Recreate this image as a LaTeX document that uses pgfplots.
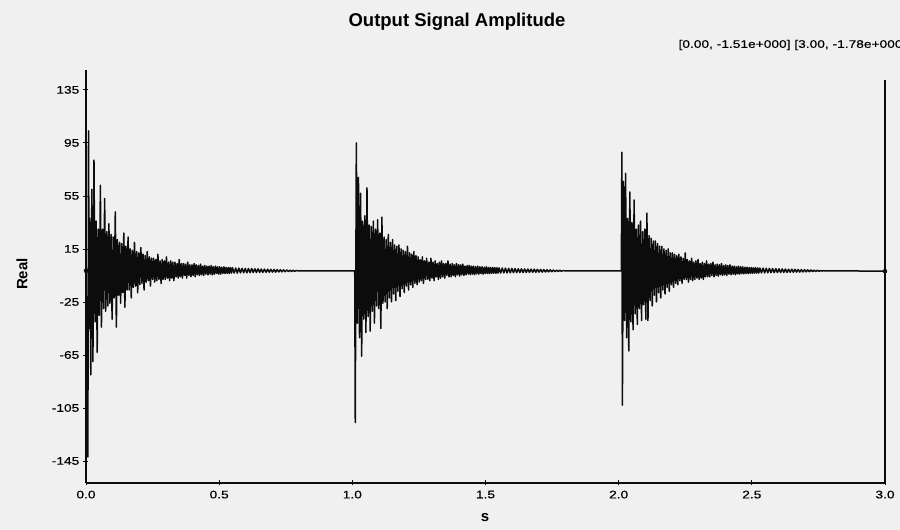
\documentclass[border=0pt]{standalone}
\usepackage{fontspec}
\setmainfont{Liberation Sans}
\newfontfamily\tickfont[FakeStretch=1.25, FakeBold=0.4]{Liberation Sans}
\usepackage{pgfplots}
\usepackage{pgfplotstable}
\pgfplotsset{compat=1.18}
\definecolor{bg}{RGB}{240,240,240}
\definecolor{ink}{RGB}{12,12,12}

\pgfplotstableread[row sep=\\]{
t v\\
0.000 -1.51\\
0.007 -142\\ 0.0095 104\\ 0.012 -45\\ 0.014 38\\ 0.018 -80\\ 0.022 60\\ 0.026 -70\\ 0.030 82\\
0.034 -40\\ 0.038 36\\ 0.042 -63\\ 0.046 30\\ 0.050 -35\\ 0.054 63\\ 0.058 -44\\ 0.062 30\\
0.066 -30\\ 0.070 53\\ 0.074 -32\\ 0.078 28\\ 0.082 -28\\ 0.086 34\\ 0.090 -26\\ 0.094 26\\
0.098 -38\\ 0.102 24\\ 0.106 -22\\ 0.110 43\\ 0.114 -44\\ 0.118 22\\ 0.122 -20\\ 0.126 20\\
0.130 -26\\ 0.134 19\\ 0.138 -18\\ 0.142 27\\ 0.146 -29\\ 0.150 17\\ 0.154 -16\\ 0.158 24\\
0.162 -16\\ 0.166 15\\ 0.170 -22\\ 0.174 14\\ 0.178 -14\\ 0.182 20\\ 0.186 -13\\ 0.190 13\\
0.194 -18\\ 0.198 12\\ 0.202 -12\\ 0.206 16\\ 0.210 -11\\ 0.214 11\\ 0.218 -16\\ 0.222 10\\
0.226 -10\\ 0.230 13\\ 0.234 -9\\ 0.238 9\\ 0.242 -13\\ 0.246 8\\ 0.250 -8\\
0.254 8\\ 0.258 -10\\ 0.262 7\\ 0.266 -9\\ 0.270 11\\ 0.274 -8\\ 0.278 6\\ 0.282 -11\\ 0.286 7\\ 0.290 -8\\
0.294 6\\ 0.298 -8\\ 0.302 9\\ 0.306 -7\\ 0.310 5\\ 0.314 -9\\ 0.318 6\\ 0.322 -7\\ 0.326 5\\ 0.330 -9\\
0.334 5\\ 0.338 -6\\ 0.342 4\\ 0.346 -7\\ 0.350 7\\ 0.354 -6\\ 0.358 4\\ 0.362 -7\\ 0.366 4\\ 0.370 -5\\
0.374 3.5\\ 0.378 -7\\ 0.382 5\\ 0.386 -5\\ 0.390 3\\ 0.394 -6\\ 0.398 3\\ 0.402 -5\\ 0.406 4\\ 0.410 -6\\
0.414 3\\ 0.418 -4.5\\ 0.422 2.5\\ 0.426 -5\\ 0.430 3.5\\ 0.434 -4.5\\ 0.438 2\\ 0.442 -5\\ 0.446 2.5\\ 0.450 -4\\
0.454 2\\ 0.458 -4.5\\ 0.462 2\\ 0.466 -4\\ 0.470 2.5\\ 0.474 -4.5\\ 0.478 1.5\\ 0.482 -4\\ 0.486 2\\ 0.490 -3.5\\
0.494 1.5\\ 0.498 -4\\ 0.502 1.5\\ 0.506 -4\\ 0.510 1.2\\ 0.514 -3.5\\ 0.518 1.5\\ 0.522 -3.5\\ 0.526 1\\ 0.530 -3.5\\
0.534 1\\ 0.538 -3.5\\ 0.542 1\\ 0.546 -3.2\\ 0.550 0.8\\
0.556 -3.2\\ 0.562 0.6\\ 0.568 -3.3\\ 0.574 0.5\\ 0.580 -3\\ 0.586 0.4\\ 0.592 -3\\ 0.598 0.3\\ 0.604 -3\\ 0.610 0.2\\
0.616 -2.9\\ 0.622 0.2\\ 0.628 -2.8\\ 0.634 0\\ 0.640 -2.8\\ 0.646 0\\ 0.652 -2.7\\ 0.658 -0.2\\ 0.664 -2.7\\ 0.670 -0.2\\
0.676 -2.6\\ 0.682 -0.3\\ 0.688 -2.6\\ 0.694 -0.4\\ 0.700 -2.5\\ 0.706 -0.5\\ 0.712 -2.5\\ 0.718 -0.6\\ 0.724 -2.4\\ 0.730 -0.7\\
0.736 -2.3\\ 0.742 -0.8\\ 0.748 -2.2\\ 0.754 -0.9\\ 0.760 -2.1\\ 0.766 -1.0\\ 0.772 -2.0\\ 0.778 -1.1\\ 0.784 -1.9\\ 0.790 -1.3\\
0.796 -1.5\\ 1.009 -1.5\\
1.011 -116\\ 1.015 95\\ 1.019 -41\\ 1.023 69\\ 1.027 -52\\ 1.031 57\\ 1.035 -66\\ 1.039 36\\
1.043 -38\\ 1.047 40\\ 1.051 -48\\ 1.055 61\\ 1.059 -36\\ 1.063 33\\ 1.067 -47\\ 1.071 32\\
1.075 -32\\ 1.079 36\\ 1.083 -41\\ 1.087 30\\ 1.091 -28\\ 1.095 37\\ 1.099 -30\\ 1.103 27\\
1.107 -45\\ 1.111 39\\ 1.115 -26\\ 1.119 24\\ 1.123 -25\\ 1.127 22\\ 1.131 -30\\ 1.135 26\\
1.139 -22\\ 1.143 20\\ 1.147 -25\\ 1.151 22\\ 1.155 -19\\ 1.159 18\\ 1.163 -24\\ 1.167 17\\
1.171 -17\\ 1.175 18\\ 1.179 -21\\ 1.183 15\\ 1.187 -15\\ 1.191 14\\ 1.195 -18\\ 1.199 13\\
1.203 -13\\ 1.207 17\\ 1.211 -16\\ 1.215 12\\ 1.219 -12\\ 1.223 11\\ 1.227 -14\\ 1.231 13\\
1.235 -11\\ 1.239 10\\ 1.243 -12\\ 1.247 9\\ 1.251 -10\\
1.255 7\\ 1.259 -9\\ 1.263 9\\ 1.267 -11\\ 1.271 6\\ 1.275 -8\\ 1.279 8\\ 1.283 -8\\ 1.287 5\\ 1.291 -9\\
1.295 8\\ 1.299 -7\\ 1.303 5\\ 1.307 -9\\ 1.311 6\\ 1.315 -6\\ 1.319 4\\ 1.323 -8\\ 1.327 5\\ 1.331 -7\\
1.335 6\\ 1.339 -6\\ 1.343 4\\ 1.347 -7\\ 1.351 4\\ 1.355 -5\\ 1.359 6\\ 1.363 -6\\ 1.367 3.5\\ 1.371 -6\\
1.375 4\\ 1.379 -5\\ 1.383 3\\ 1.387 -6\\ 1.391 4\\ 1.395 -4.5\\ 1.399 3\\ 1.403 -5.5\\ 1.407 3\\ 1.411 -4.5\\
1.415 3.5\\ 1.419 -5\\ 1.423 2\\ 1.427 -4.5\\ 1.431 2.5\\ 1.435 -4\\ 1.439 2.5\\ 1.443 -4.5\\ 1.447 2\\ 1.451 -4\\
1.455 2\\ 1.459 -4.5\\ 1.463 1.5\\ 1.467 -3.8\\ 1.471 2\\ 1.475 -4\\ 1.479 1.5\\ 1.483 -3.6\\ 1.487 1.5\\ 1.491 -4\\
1.495 1.2\\ 1.499 -3.5\\ 1.503 1.5\\ 1.507 -3.5\\ 1.511 1\\ 1.515 -3.6\\ 1.519 1\\ 1.523 -3.4\\ 1.527 1\\ 1.531 -3.3\\
1.535 0.9\\ 1.539 -3.4\\ 1.543 0.8\\ 1.547 -3.2\\ 1.551 0.7\\
1.557 -3.2\\ 1.563 0.6\\ 1.569 -3.1\\ 1.575 0.5\\ 1.581 -3.1\\ 1.587 0.4\\ 1.593 -3\\ 1.599 0.3\\ 1.605 -2.9\\ 1.611 0.2\\
1.617 -2.9\\ 1.623 0.1\\ 1.629 -2.8\\ 1.635 0\\ 1.641 -2.8\\ 1.647 -0.1\\ 1.653 -2.7\\ 1.659 -0.2\\ 1.665 -2.7\\ 1.671 -0.3\\
1.677 -2.6\\ 1.683 -0.3\\ 1.689 -2.6\\ 1.695 -0.4\\ 1.701 -2.5\\ 1.707 -0.5\\ 1.713 -2.5\\ 1.719 -0.6\\ 1.725 -2.4\\ 1.731 -0.7\\
1.737 -2.3\\ 1.743 -0.8\\ 1.749 -2.2\\ 1.755 -0.9\\ 1.761 -2.1\\ 1.767 -1.0\\ 1.773 -2.0\\ 1.779 -1.1\\ 1.785 -1.9\\ 1.791 -1.3\\
1.797 -1.5\\ 2.010 -1.5\\
2.012 88\\ 2.014 -103\\ 2.018 66\\ 2.022 -39\\ 2.026 72\\ 2.030 -52\\ 2.034 38\\ 2.038 -62\\
2.042 58\\ 2.046 -40\\ 2.050 35\\ 2.054 -46\\ 2.058 52\\ 2.062 -34\\ 2.066 30\\ 2.070 -42\\
2.074 33\\ 2.078 -30\\ 2.082 36\\ 2.086 -39\\ 2.090 28\\ 2.094 -27\\ 2.098 30\\ 2.102 -38\\
2.106 42\\ 2.110 -39\\ 2.114 25\\ 2.118 -24\\ 2.122 23\\ 2.126 -28\\ 2.130 21\\ 2.134 -20\\
2.138 21\\ 2.142 -25\\ 2.146 19\\ 2.150 -18\\ 2.154 17\\ 2.158 -22\\ 2.162 17\\ 2.166 -16\\
2.170 15\\ 2.174 -19\\ 2.178 14\\ 2.182 -14\\ 2.186 15\\ 2.190 -17\\ 2.194 12\\ 2.198 -12\\
2.202 12\\ 2.206 -14\\ 2.210 11\\ 2.214 -11\\ 2.218 10\\ 2.222 -12\\ 2.226 11\\ 2.230 -9\\
2.234 9\\ 2.238 -11\\ 2.242 8\\ 2.246 -8\\ 2.250 12\\
2.254 -8\\ 2.258 7\\ 2.262 -10\\ 2.266 6\\ 2.270 -8\\ 2.274 8\\ 2.278 -9\\ 2.282 5\\ 2.286 -8\\ 2.290 6\\
2.294 -7\\ 2.298 7\\ 2.302 -8\\ 2.306 4\\ 2.310 -7\\ 2.314 5\\ 2.318 -8\\ 2.322 4\\ 2.326 -6\\ 2.330 6\\
2.334 -6\\ 2.338 3.5\\ 2.342 -6\\ 2.346 4\\ 2.350 -5\\ 2.354 5\\ 2.358 -6\\ 2.362 3\\ 2.366 -5\\ 2.370 3.5\\
2.374 -5.5\\ 2.378 3\\ 2.382 -4.5\\ 2.386 4\\ 2.390 -5\\ 2.394 2.5\\ 2.398 -4.5\\ 2.402 3\\ 2.406 -5\\ 2.410 2.5\\
2.414 -4\\ 2.418 3\\ 2.422 -4.5\\ 2.426 2\\ 2.430 -4\\ 2.434 2\\ 2.438 -4.5\\ 2.442 1.5\\ 2.446 -3.8\\ 2.450 2\\
2.454 -4\\ 2.458 1.5\\ 2.462 -3.6\\ 2.466 1.5\\ 2.470 -3.8\\ 2.474 1.2\\ 2.478 -3.5\\ 2.482 1.2\\ 2.486 -3.6\\ 2.490 1\\
2.494 -3.4\\ 2.498 1\\ 2.502 -3.4\\ 2.506 0.8\\ 2.510 -3.3\\ 2.514 0.8\\ 2.518 -3.2\\ 2.522 0.7\\ 2.526 -3.2\\ 2.530 0.6\\
2.536 -3.1\\ 2.542 0.5\\ 2.548 -3.1\\ 2.554 0.4\\ 2.560 -3\\ 2.566 0.3\\ 2.572 -2.9\\ 2.578 0.2\\ 2.584 -2.9\\ 2.590 0.1\\
2.596 -2.8\\ 2.602 0\\ 2.608 -2.8\\ 2.614 -0.1\\ 2.620 -2.7\\ 2.626 -0.2\\ 2.632 -2.7\\ 2.638 -0.3\\ 2.644 -2.6\\ 2.650 -0.3\\
2.656 -2.6\\ 2.662 -0.4\\ 2.668 -2.5\\ 2.674 -0.5\\ 2.680 -2.5\\ 2.686 -0.6\\ 2.692 -2.4\\ 2.698 -0.7\\ 2.704 -2.3\\ 2.710 -0.8\\
2.716 -2.2\\ 2.722 -0.9\\ 2.728 -2.1\\ 2.734 -1.0\\ 2.740 -2.0\\ 2.746 -1.1\\ 2.752 -1.9\\ 2.758 -1.3\\ 2.764 -1.7\\ 2.770 -1.4\\
2.776 -1.6\\ 2.782 -1.5\\ 3.000 -1.78\\
}\sig

\begin{document}
\begin{tikzpicture}
\fill[bg] (-86pt,-47pt) rectangle (814pt,483pt);
\begin{axis}[
  scale only axis,
  width=799pt, height=413pt,
  xmin=0, xmax=3, ymin=-161.6, ymax=150,
  axis x line*=bottom, axis y line*=left,
  axis line style={ink, line width=1.5pt, -},
  xtick={0,0.5,1,1.5,2,2.5,3},
  xticklabels={0.0,0.5,1.0,1.5,2.0,2.5,3.0},
  ytick={-145,-105,-65,-25,15,55,95,135},
  yticklabels={-145,-105,-65,-25,15,55,95,135},
  tick align=center, major tick length=5pt,
  tick style={ink, line width=0.8pt},
  tick label style={font=\tickfont\fontsize{11}{11}\selectfont, inner sep=0pt},
  xticklabel style={anchor=north, yshift=-5pt},
  yticklabel style={anchor=east, xshift=-4pt},
  clip=false,
]
  \addplot[ink, line width=1.5pt, line join=round] table[x=t, y=v] {\sig};
  % cursor at 3.00 and the two cursor points
  \addplot[ink, line width=1.3pt] coordinates {(3,-161.6) (3,142.5)};
  \addplot[only marks, mark=*, mark size=2pt, ink] coordinates {(0,-1.51) (3,-1.78)};
\end{axis}
\node[font=\bfseries\fontsize{18.5}{18.5}\selectfont, anchor=base] at (371pt,456pt) {Output Signal Amplitude};
\node[font=\tickfont\fontsize{11}{11}\selectfont, anchor=west] at (589pt,438pt) {[0.00, -1.51e+000] [3.00, -1.78e+000]};
\node[font=\bfseries\fontsize{15}{15}\selectfont, rotate=90] at (-64pt,209pt) {Real};
\node[font=\bfseries\fontsize{15}{15}\selectfont] at (399pt,-35pt) {s};
\pgfresetboundingbox
\useasboundingbox (-86pt,-47pt) rectangle (814pt,483pt);
\end{tikzpicture}
\end{document}
